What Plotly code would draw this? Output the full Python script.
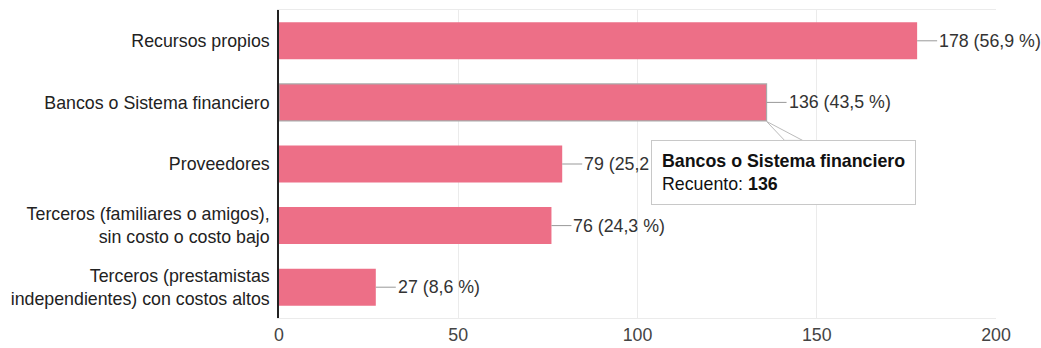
import plotly.graph_objects as go

categories = [
    "Recursos propios",
    "Bancos o Sistema financiero",
    "Proveedores",
    "Terceros (familiares o amigos),<br>sin costo o costo bajo",
    "Terceros (prestamistas<br>independientes) con costos altos",
]
counts = [178, 136, 79, 76, 27]
percents = ["56,9", "43,5", "25,2", "24,3", "8,6"]
x_ticks = [0, 50, 100, 150, 200]

highlight = 1  # bar shown with the tooltip
bar_color = "#ED6F87"
FONT = "Liberation Sans, Arial, sans-serif"
FS = 17.8

fig = go.Figure()
fig.add_trace(go.Bar(
    y=categories,
    x=counts,
    orientation="h",
    marker=dict(
        color=bar_color,
        line=dict(
            color=["rgba(0,0,0,0)" if i != highlight else "#a9a9a9" for i in range(len(counts))],
            width=[0 if i != highlight else 1.2 for i in range(len(counts))],
        ),
    ),
    width=0.6,
    hoverinfo="skip",
))

# value labels with a short leader line
for cat, v, p in zip(categories, counts, percents):
    fig.add_annotation(
        x=v, y=cat, xref="x", yref="y",
        text=f"{v} ({p} %)",
        showarrow=True, arrowhead=0, arrowwidth=1, arrowcolor="#999999",
        ax=20, ay=0, xanchor="left",
        font=dict(family=FONT, size=FS, color="#333333"),
    )

# tooltip pointer
fig.add_shape(
    type="path",
    xref="x", yref="y",
    xsizemode="pixel", ysizemode="pixel",
    xanchor=counts[highlight], yanchor=highlight,
    path="M 18,-38 L 0,-19 L 36,-38 Z",
    fillcolor="white",
    line=dict(color="#bbbbbb", width=1),
    layer="above",
)

# tooltip box
fig.add_annotation(
    x=counts[highlight], y=categories[highlight], xref="x", yref="y",
    text=f"<b>Bancos o Sistema financiero</b><br>Recuento: <b>{counts[highlight]}</b>",
    showarrow=False, align="left",
    xanchor="left", yanchor="top", xshift=-116, yshift=-38,
    bgcolor="white", bordercolor="#c8c8c8", borderwidth=1, borderpad=10,
    font=dict(family=FONT, size=FS, color="#111111"),
)

fig.update_layout(
    width=1041, height=348,
    margin=dict(l=279, r=45, t=10, b=30),
    plot_bgcolor="white", paper_bgcolor="white",
    showlegend=False,
    font=dict(family=FONT, size=FS, color="#222222"),
    bargap=0.4,
)
fig.update_xaxes(
    range=[0, 200], tickvals=x_ticks,
    showgrid=True, gridcolor="#ebebeb", gridwidth=1,
    showline=True, linecolor="#ebebeb", mirror=True,
    zeroline=False, ticks="", ticklabelstandoff=1,
    tickfont=dict(size=FS, color="#444444"),
    fixedrange=True, automargin=False,
)
fig.update_yaxes(
    range=[len(categories) - 0.5, -0.5],
    showline=True, linecolor="#222222", linewidth=1.5,
    showgrid=False, ticks="", ticklabelstandoff=4,
    tickfont=dict(size=FS, color="#222222"),
    fixedrange=True, automargin=False,
)

fig.write_html("out.html", config={"displayModeBar": False})
